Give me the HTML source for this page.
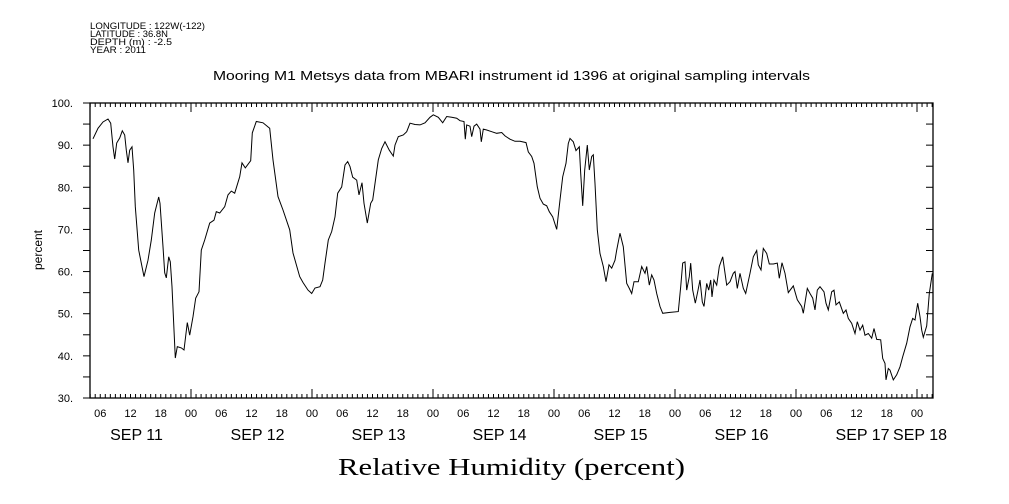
<!DOCTYPE html>
<html><head><meta charset="utf-8"><style>
html,body{margin:0;padding:0;background:#fff;}
svg{display:block;font-family:"Liberation Sans",sans-serif;}
</style></head><body>
<svg id="chart" width="1009" height="504" viewBox="0 0 1009 504" xmlns="http://www.w3.org/2000/svg">
<rect width="1009" height="504" fill="#fff"/>
<g font-size="9" fill="#000">
<text x="90" y="29" textLength="115" lengthAdjust="spacingAndGlyphs">LONGITUDE : 122W(-122)</text>
<text x="90" y="37" textLength="78" lengthAdjust="spacingAndGlyphs">LATITUDE : 36.8N</text>
<text x="90" y="45" textLength="82" lengthAdjust="spacingAndGlyphs">DEPTH (m) : -2.5</text>
<text x="90" y="53" textLength="56" lengthAdjust="spacingAndGlyphs">YEAR : 2011</text>
</g>
<text x="213" y="80" textLength="597" lengthAdjust="spacingAndGlyphs" font-size="13">Mooring M1 Metsys data from MBARI instrument id 1396 at original sampling intervals</text>
<text transform="translate(42,250) rotate(-90)" text-anchor="middle" font-size="12">percent</text>
<text x="338" y="475" textLength="347" lengthAdjust="spacingAndGlyphs" font-size="24" font-family="Liberation Serif, serif">Relative Humidity (percent)</text>
<g id="axes"></g>
<path id="series" fill="none" stroke="#000" stroke-width="1"/>
</svg>
<script>
// hours since Sep 11 00:00
const hours=[4.56,5.55,6.55,7.54,8.07,8.53,8.87,9.26,9.86,10.37,10.85,11.17,11.5,11.84,12.3,12.63,12.95,13.63,14.14,14.68,15.47,16.13,16.8,17.59,17.85,18.45,18.78,19.1,19.58,19.89,20.23,20.63,20.89,21.28,22.08,22.61,23.27,23.74,24.4,24.93,25.59,26.04,26.72,27.71,28.56,29.02,29.69,30.69,31.34,32,32.67,33.66,34.12,34.77,35.84,36.16,36.95,38.28,39.61,40.27,41.26,42.25,43.58,44.23,45.56,46.22,47.21,47.94,48.6,49.59,50.13,50.58,51.23,51.91,52.56,53.1,53.89,54.55,55.09,55.54,56.08,56.87,57.33,57.92,58.32,58.97,59.65,60.04,60.5,61.15,61.83,62.48,63.33,64.13,64.46,65.12,66.11,66.79,67.44,68.43,69.42,70.41,71.41,72.06,73.05,73.93,74.72,75.71,76.7,77.36,78.15,78.41,78.69,79.34,79.68,80.13,80.67,81.32,81.58,81.98,82.65,83.64,84.64,85.63,86.28,87.27,88.27,89.26,90.45,90.9,91.58,92.03,92.69,93.22,93.88,94.55,95.07,95.74,96.54,97.19,97.73,98.38,98.84,99.18,99.83,100.37,101.02,101.3,101.7,102.09,102.61,103.0,103.48,103.8,104.13,104.59,105.13,105.78,106.32,106.91,107.45,108.1,108.44,109.09,109.75,110.42,110.94,111.41,111.87,112.72,113.4,114.05,114.39,114.9,115.38,115.84,116.37,117.02,117.56,119.0,120.65,121.13,121.52,121.98,122.32,122.84,123.11,123.51,124.03,124.5,124.96,125.42,125.75,126.29,126.69,127.08,127.34,127.74,128.27,128.79,129.46,130.25,130.91,131.56,131.9,132.36,132.9,133.55,134.03,134.88,135.54,136.21,136.53,137.06,137.52,138.19,138.71,139.5,140.29,140.69,141.22,141.82,142.47,143.47,144.26,145.13,145.45,146.24,146.78,147.31,147.77,148.23,148.76,149.56,149.95,150.41,151.08,151.54,151.94,152.59,153.39,153.92,154.38,155.05,155.7,156.16,156.7,157.23,157.69,158.34,159.02,159.47,160.01,160.8,161.2,161.65,161.85,162.31,162.65,163.3,163.98,164.63,165.17,165.96,166.62,167.15,167.61,168.14,168.6,168.93,169.25,169.93,170.44,171.04];
const humidity=[91.5,94,95.5,96.2,95.2,89.6,86.7,90.5,91.7,93.4,92.4,88.8,85.8,88.8,89.6,84.1,75.4,65.1,62,58.8,62.7,67.5,73.9,77.7,76.2,65.9,59.7,58.5,63.5,62.3,56.4,46.1,39.5,42.2,41.9,41.4,47.9,44.9,49.3,53.7,55.2,65.1,67.5,71.5,72.2,74.2,73.9,75.4,78.2,79.1,78.6,82.5,85.8,84.6,86.3,92.9,95.6,95.3,94,86.5,77.8,74.6,69.9,64.4,58.8,57.4,55.6,54.8,56.1,56.4,58,62,67.5,69.5,73,78.6,80.1,85.3,86.1,84.9,82.4,81.7,78.2,81.1,76.2,71.5,76.2,77,80.9,86.5,89.2,90.8,88.8,87.4,90,92,92.4,93.2,95.2,94.9,94.8,95.3,96.6,97.2,96.6,95.3,96.8,96.6,96.4,95.8,95.6,91.4,94.8,94.5,92,94.5,95,93.8,90.8,93.8,93.6,93.2,92.8,93,92.2,91.4,90.9,90.9,90.6,88.4,87.3,85.7,80.1,77.4,76,75.6,74.2,73,70,77,82.5,85.7,90.4,91.6,90.8,88.7,89.6,83.3,75.6,84.1,90,84.1,87.3,87.7,80.9,69.9,64.3,61.2,57.6,61.6,60.8,62.7,65.1,69.1,65.9,57.2,56,54.8,57.6,57.6,61.2,59.6,61.2,56.8,59.2,58,54.8,51.7,50.1,50.3,50.5,56.4,62,62.3,55.6,58.8,62,55.6,52.5,55.2,58,52.8,51.7,57.2,55.6,58,54,58,56.8,61.2,63.5,56.8,57.6,59.6,60,56,59.6,56,54.8,59.6,63.5,65,61.6,60.4,65.5,64.3,61.8,61.8,62,58.4,62.1,59.6,55,56.6,53.3,51.7,50.1,56,54.8,53.7,50.9,55.6,56.4,55.2,52.5,50.9,55.2,55.6,52.1,52.8,50.1,50.9,48.9,47.7,45.3,48.1,46.1,47.3,44.9,45.3,44.2,46.5,43.9,43.8,39.4,38.2,34.3,37,36.6,34.3,35.5,37.4,39.8,43,46.9,48.9,48.5,52.5,49.3,46.1,44.4,47.1,54.8,59.6];
const yTicks=[30,40,50,60,70,80,90,100];
const hourLabels=["00","06","12","18"];
const dayLabels=["SEP 11","SEP 12","SEP 13","SEP 14","SEP 15","SEP 16","SEP 17","SEP 18"];

const L=90,R=933,T=103,B=398;
const H0=(L-70)/(121/24),H1=(R-70)/(121/24);
const xs=h=>L+(h-H0)/(H1-H0)*(R-L);
const ys=v=>B-(v-30)/(100-30)*(B-T);
const NS="http://www.w3.org/2000/svg";
const ax=document.getElementById('axes');
function mk(tag,attrs){const e=document.createElementNS(NS,tag);for(const k in attrs)e.setAttribute(k,attrs[k]);ax.appendChild(e);return e;}
const frame=mk('rect',{x:L,y:T,width:R-L,height:B-T,fill:'none',stroke:'#000','stroke-width':1.3});


for(let v=30;v<=100;v+=5){
  const y=ys(v);
  const t=mk('line',{x1:L-7,x2:L,y1:y,y2:y,stroke:'#000'});
  
  
  const t2=mk('line',{x1:R-7,x2:R,y1:y,y2:y,stroke:'#000'});
  
  
}
yTicks.forEach(v=>{
  const t=mk('text',{x:73,y:ys(v)+4,'text-anchor':'end','font-size':11});
  t.textContent=v+'.';
  
  
});
for(let h=Math.ceil(H0);h<=H1;h++){
  const x=xs(h);const len=(h%24===0)?9:4;
  const a=mk('line',{x1:x,x2:x,y1:B,y2:B-len,stroke:'#000'});
  
  
  const b=mk('line',{x1:x,x2:x,y1:T,y2:T+len,stroke:'#000'});
  
  
  if(h%6===0){
    const t=mk('text',{x:x,y:417,'text-anchor':'middle','font-size':11});
    t.textContent=hourLabels[(h/6)%4];
    
    
  }
}
dayLabels.forEach((d,i)=>{
  const h=i<7?i*24+12:i*24;
  const t=mk('text',{x:xs(h)+(i<7?6:3),y:440,'text-anchor':'middle','font-size':16});
  t.textContent=d;
  
  
});
let d='';
hours.forEach((h,i)=>{d+=(i?'L':'M')+xs(h).toFixed(1)+','+ys(humidity[i]).toFixed(1);});
document.getElementById('series').setAttribute('d',d);
</script>
</body></html>
